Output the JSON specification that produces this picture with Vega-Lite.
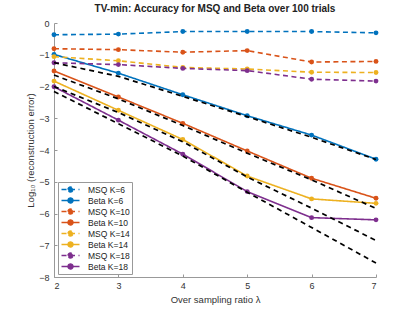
{
  "$schema": "https://vega.github.io/schema/vega-lite/v6.json",
  "width": 322,
  "height": 254,
  "autosize": {"type": "none"},
  "padding": {"left": 54, "top": 23, "right": 39, "bottom": 35},
  "background": "white",
  "title": {"text": "TV-min: Accuracy for MSQ and Beta over 100 trials", "font": "Liberation Sans", "fontSize": 10, "fontWeight": "bold", "color": "#222", "anchor": "middle", "offset": 5},
  "config": {
    "view": {"stroke": null},
    "axis": {"grid": false, "domainColor": "#999", "tickColor": "#999", "tickSize": -3, "labelOverlap": false, "labelFont": "Liberation Sans", "labelFontSize": 9, "labelColor": "#333", "titleFont": "Liberation Sans", "titleFontSize": 9.5, "titleFontWeight": "normal", "titleColor": "#333"}
  },
  "datasets": {
    "series": [
      {"series": "MSQ K=6", "lambda": 2, "err": -0.37}, {"series": "MSQ K=6", "lambda": 3, "err": -0.35}, {"series": "MSQ K=6", "lambda": 4, "err": -0.27}, {"series": "MSQ K=6", "lambda": 5, "err": -0.27}, {"series": "MSQ K=6", "lambda": 6, "err": -0.27}, {"series": "MSQ K=6", "lambda": 7, "err": -0.31},
      {"series": "Beta K=6", "lambda": 2, "err": -0.99}, {"series": "Beta K=6", "lambda": 3, "err": -1.58}, {"series": "Beta K=6", "lambda": 4, "err": -2.26}, {"series": "Beta K=6", "lambda": 5, "err": -2.92}, {"series": "Beta K=6", "lambda": 6, "err": -3.53}, {"series": "Beta K=6", "lambda": 7, "err": -4.29},
      {"series": "MSQ K=10", "lambda": 2, "err": -0.81}, {"series": "MSQ K=10", "lambda": 3, "err": -0.84}, {"series": "MSQ K=10", "lambda": 4, "err": -0.92}, {"series": "MSQ K=10", "lambda": 5, "err": -0.87}, {"series": "MSQ K=10", "lambda": 6, "err": -1.23}, {"series": "MSQ K=10", "lambda": 7, "err": -1.21},
      {"series": "Beta K=10", "lambda": 2, "err": -1.51}, {"series": "Beta K=10", "lambda": 3, "err": -2.33}, {"series": "Beta K=10", "lambda": 4, "err": -3.16}, {"series": "Beta K=10", "lambda": 5, "err": -4.03}, {"series": "Beta K=10", "lambda": 6, "err": -4.89}, {"series": "Beta K=10", "lambda": 7, "err": -5.52},
      {"series": "MSQ K=14", "lambda": 2, "err": -1.06}, {"series": "MSQ K=14", "lambda": 3, "err": -1.19}, {"series": "MSQ K=14", "lambda": 4, "err": -1.4}, {"series": "MSQ K=14", "lambda": 5, "err": -1.45}, {"series": "MSQ K=14", "lambda": 6, "err": -1.55}, {"series": "MSQ K=14", "lambda": 7, "err": -1.56},
      {"series": "Beta K=14", "lambda": 2, "err": -1.83}, {"series": "Beta K=14", "lambda": 3, "err": -2.75}, {"series": "Beta K=14", "lambda": 4, "err": -3.67}, {"series": "Beta K=14", "lambda": 5, "err": -4.82}, {"series": "Beta K=14", "lambda": 6, "err": -5.54}, {"series": "Beta K=14", "lambda": 7, "err": -5.68},
      {"series": "MSQ K=18", "lambda": 2, "err": -1.25}, {"series": "MSQ K=18", "lambda": 3, "err": -1.31}, {"series": "MSQ K=18", "lambda": 4, "err": -1.43}, {"series": "MSQ K=18", "lambda": 5, "err": -1.5}, {"series": "MSQ K=18", "lambda": 6, "err": -1.77}, {"series": "MSQ K=18", "lambda": 7, "err": -1.83},
      {"series": "Beta K=18", "lambda": 2, "err": -2.01}, {"series": "Beta K=18", "lambda": 3, "err": -3.06}, {"series": "Beta K=18", "lambda": 4, "err": -4.13}, {"series": "Beta K=18", "lambda": 5, "err": -5.31}, {"series": "Beta K=18", "lambda": 6, "err": -6.13}, {"series": "Beta K=18", "lambda": 7, "err": -6.2}
    ],
    "ref": [
      {"line": "r1", "lambda": 2, "err": -1.25}, {"line": "r1", "lambda": 3, "err": -1.68}, {"line": "r1", "lambda": 4, "err": -2.31}, {"line": "r1", "lambda": 5, "err": -2.95}, {"line": "r1", "lambda": 6, "err": -3.6}, {"line": "r1", "lambda": 7, "err": -4.3},
      {"line": "r2", "lambda": 2, "err": -1.64}, {"line": "r2", "lambda": 3, "err": -2.39}, {"line": "r2", "lambda": 4, "err": -3.23}, {"line": "r2", "lambda": 5, "err": -4.1}, {"line": "r2", "lambda": 6, "err": -4.94}, {"line": "r2", "lambda": 7, "err": -5.84},
      {"line": "r3", "lambda": 2, "err": -2.0}, {"line": "r3", "lambda": 3, "err": -2.82}, {"line": "r3", "lambda": 4, "err": -3.74}, {"line": "r3", "lambda": 5, "err": -4.85}, {"line": "r3", "lambda": 6, "err": -5.83}, {"line": "r3", "lambda": 7, "err": -6.85},
      {"line": "r4", "lambda": 2, "err": -2.16}, {"line": "r4", "lambda": 3, "err": -3.17}, {"line": "r4", "lambda": 4, "err": -4.19}, {"line": "r4", "lambda": 5, "err": -5.33}, {"line": "r4", "lambda": 6, "err": -6.44}, {"line": "r4", "lambda": 7, "err": -7.56}
    ]
  },
  "layer": [
    {
      "data": {"name": "series"},
      "mark": {"type": "line", "strokeWidth": 1.6, "point": {"filled": true, "size": 24}},
      "encoding": {
        "x": {"field": "lambda", "type": "quantitative", "scale": {"domain": [2, 7]}, "axis": {"title": "Over sampling ratio λ", "values": [2, 3, 4, 5, 6, 7], "format": "d", "labelOverlap": false, "labelPadding": 7, "titlePadding": 4}},
        "y": {"field": "err", "type": "quantitative", "scale": {"domain": [-8, 0], "nice": false}, "axis": {"title": "Log₁₀ (reconstruction error)", "values": [0, -1, -2, -3, -4, -5, -6, -7, -8], "tickCount": 9, "format": "d", "labelOverlap": false, "labelPadding": 8, "titlePadding": 3}},
        "color": {"field": "series", "type": "nominal", "sort": null,
          "scale": {"domain": ["MSQ K=6", "Beta K=6", "MSQ K=10", "Beta K=10", "MSQ K=14", "Beta K=14", "MSQ K=18", "Beta K=18"], "range": ["#0072BD", "#0072BD", "#D95319", "#D95319", "#EDB120", "#EDB120", "#7E2F8E", "#7E2F8E"]},
          "legend": {"orient": "none", "legendX": 4, "legendY": 159, "title": null, "symbolType": "M-2,0L2,0M-0.55,0A0.55,0.55,0,1,1,0.55,0A0.55,0.55,0,1,1,-0.55,0Z", "symbolSize": 81, "symbolStrokeWidth": 1.5, "symbolOffset": 5, "labelOffset": 12, "labelFont": "Liberation Sans", "labelFontSize": 8.5, "labelColor": "#222", "rowPadding": 0, "padding": 2, "strokeColor": "#999", "fillColor": "white", "cornerRadius": 0}},
        "strokeDash": {"field": "series", "type": "nominal", "sort": null,
          "scale": {"domain": ["MSQ K=6", "Beta K=6", "MSQ K=10", "Beta K=10", "MSQ K=14", "Beta K=14", "MSQ K=18", "Beta K=18"], "range": [[5, 3.5], [1, 0], [5, 3.5], [1, 0], [5, 3.5], [1, 0], [5, 3.5], [1, 0]]},
          "legend": {"orient": "none", "legendX": 4, "legendY": 159, "title": null, "symbolType": "M-2,0L2,0M-0.55,0A0.55,0.55,0,1,1,0.55,0A0.55,0.55,0,1,1,-0.55,0Z", "symbolSize": 81, "symbolStrokeWidth": 1.5, "symbolOffset": 5, "labelOffset": 12, "labelFont": "Liberation Sans", "labelFontSize": 8.5, "labelColor": "#222", "rowPadding": 0, "padding": 2, "strokeColor": "#999", "fillColor": "white", "cornerRadius": 0}}
      }
    },
    {
      "data": {"name": "ref"},
      "mark": {"type": "line", "color": "black", "strokeWidth": 1.7, "strokeDash": [5, 4]},
      "encoding": {
        "x": {"field": "lambda", "type": "quantitative"},
        "y": {"field": "err", "type": "quantitative"},
        "detail": {"field": "line", "type": "nominal"}
      }
    }
  ]
}
